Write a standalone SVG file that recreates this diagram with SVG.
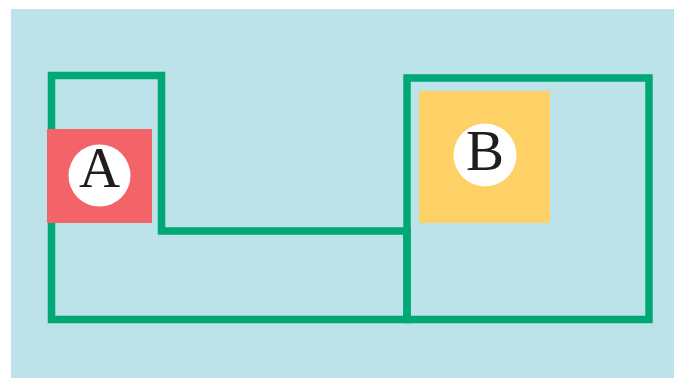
<svg xmlns="http://www.w3.org/2000/svg" width="674" height="378" viewBox="0 0 674 378">
<style>
.wall{fill:none;stroke:#00A875;stroke-width:7.5;stroke-linejoin:miter;stroke-linecap:square}
.badge{fill:#FFFFFF}
.lbl{font-family:"Liberation Serif","DejaVu Serif",serif;font-size:57px;fill:#1E1E1E;text-anchor:middle}
</style>
<rect x="11" y="9" width="663" height="369" fill="#BBE3E9"/>
<g id="connectors">
<path class="wall" d="M51.5,75.5 H161.5 V231 H407 V319.5 H51.5 Z"/>
<path class="wall" d="M407,78 H649 V319.5 H407 Z"/>
</g>
<g id="nodeA">
<rect x="47" y="129" width="105" height="94" fill="#F26468"/>
<circle class="badge" cx="99.5" cy="175.5" r="31"/>
<text class="lbl" x="99.5" y="187">A</text>
</g>
<g id="nodeB">
<rect x="419" y="91" width="131" height="132" fill="#FED166"/>
<circle class="badge" cx="485" cy="155" r="31.5"/>
<text class="lbl" x="485" y="169.5">B</text>
</g>
</svg>
